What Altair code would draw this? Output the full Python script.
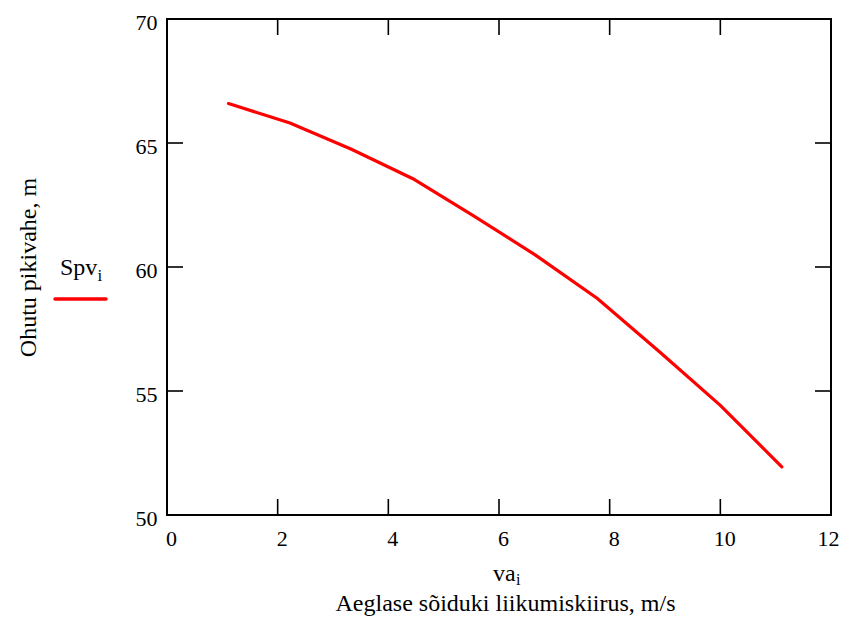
import altair as alt
import pandas as pd

va = [1.111, 2.222, 3.333, 4.444, 5.556, 6.667, 7.778, 8.889, 10.0, 11.111]
spv = [66.59, 65.81, 64.75, 63.56, 62.04, 60.47, 58.73, 56.6, 54.42, 51.94]
x_ticks = [0, 2, 4, 6, 8, 10, 12]
y_ticks = [50, 55, 60, 65, 70]

W, H = 664, 496
FONT = "Liberation Serif"

df = pd.DataFrame({"va": va, "spv": spv})
dx = pd.DataFrame({"t": x_ticks})
dy = pd.DataFrame({"t": y_ticks})

xs = alt.Scale(domain=[0, 12], nice=False, zero=False)
ys = alt.Scale(domain=[50, 70], nice=False, zero=False)

line = alt.Chart(df).mark_line(color="#ff0000", strokeWidth=3.2, strokeCap="round").encode(
    x=alt.X("va:Q", scale=xs, axis=alt.Axis(
        values=x_ticks, format="d", ticks=False, tickSize=0, domain=False, grid=False,
        labelFont=FONT, labelFontSize=22, labelColor="black", labelPadding=13,
        labelBaseline="top", labelFlush=False,
        labelOffset={"condition": {"test": "datum.value == 12", "value": -3}, "value": 4},
        title="Aeglase sõiduki liikumiskiirus, m/s", titleFont=FONT, titleFontSize=24,
        titleFontWeight="normal", titleColor="black", titleBaseline="alphabetic",
        titleX=338, titleY=95, titleAnchor="middle")),
    y=alt.Y("spv:Q", scale=ys, axis=alt.Axis(
        values=y_ticks, format="d", ticks=False, tickSize=0, domain=False, grid=False,
        labelFont=FONT, labelFontSize=22, labelColor="black", labelPadding=10,
        labelOffset=3, labelFlush=False,
        title="Ohutu pikivahe, m", titleFont=FONT, titleFontSize=24,
        titleFontWeight="normal", titleColor="black", titleBaseline="alphabetic",
        titleX=-132, titleY=248, titleAngle=270, titleAnchor="middle")),
)

tick_style = dict(color="black", strokeWidth=1.6)
bottom_ticks = alt.Chart(dx).mark_rule(**tick_style).encode(
    x=alt.X("t:Q", scale=xs), y=alt.value(H), y2=alt.value(H - 16))
top_ticks = alt.Chart(dx).mark_rule(**tick_style).encode(
    x=alt.X("t:Q", scale=xs), y=alt.value(0), y2=alt.value(16))
left_ticks = alt.Chart(dy).mark_rule(**tick_style).encode(
    y=alt.Y("t:Q", scale=ys), x=alt.value(0), x2=alt.value(16))
right_ticks = alt.Chart(dy).mark_rule(**tick_style).encode(
    y=alt.Y("t:Q", scale=ys), x=alt.value(W), x2=alt.value(W - 16))

txt = dict(font=FONT, color="black", align="left", baseline="alphabetic")
va_label = alt.Chart(pd.DataFrame({"s": ["va"]})).mark_text(fontSize=24, **txt).encode(
    text="s:N", x=alt.value(326), y=alt.value(562))
va_sub = alt.Chart(pd.DataFrame({"s": ["i"]})).mark_text(fontSize=16, **txt).encode(
    text="s:N", x=alt.value(349), y=alt.value(566))
spv_label = alt.Chart(pd.DataFrame({"s": ["Spv"]})).mark_text(fontSize=24, **txt).encode(
    text="s:N", x=alt.value(-107), y=alt.value(256))
spv_sub = alt.Chart(pd.DataFrame({"s": ["i"]})).mark_text(fontSize=17, **txt).encode(
    text="s:N", x=alt.value(-69.5), y=alt.value(262))
legend_line = alt.Chart(pd.DataFrame({"s": ["Spv"]})).mark_rule(
    color="#ff0000", strokeWidth=3.5, strokeCap="round").encode(
    x=alt.value(-112), x2=alt.value(-61), y=alt.value(280))

chart = alt.layer(
    line, bottom_ticks, top_ticks, left_ticks, right_ticks,
    va_label, va_sub, spv_label, spv_sub, legend_line,
).properties(
    width=W, height=H,
    autosize=alt.AutoSizeParams(type="none"),
    padding={"left": 159, "top": 11, "right": 9, "bottom": 102},
    background="white",
).configure_view(stroke="black", strokeWidth=2)

chart.save("out.html", embed_options={"renderer": "svg", "actions": False})
